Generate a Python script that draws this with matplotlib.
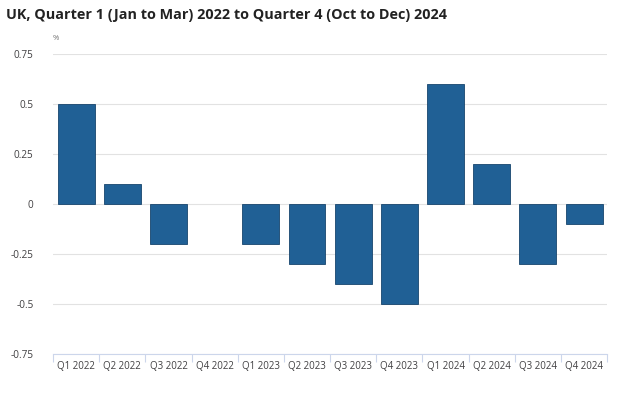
import numpy as np
import matplotlib.pyplot as plt

quarters = ["Q1 2022", "Q2 2022", "Q3 2022", "Q4 2022",
            "Q1 2023", "Q2 2023", "Q3 2023", "Q4 2023",
            "Q1 2024", "Q2 2024", "Q3 2024", "Q4 2024"]
growth = [0.5, 0.1, -0.2, 0.0, -0.2, -0.3, -0.4, -0.5, 0.6, 0.2, -0.3, -0.1]
yticks = [-0.75, -0.5, -0.25, 0, 0.25, 0.5, 0.75]
ylabels = ["-0.75", "-0.5", "-0.25", "0", "0.25", "0.5", "0.75"]

plt.rcParams['font.family'] = ['Open Sans', 'DejaVu Sans']

fig = plt.figure(figsize=(6.34, 3.96), dpi=100)
ax = fig.add_axes([0.0836, 0.106, 0.874, 0.758])

x = np.arange(len(quarters))
# no outline on zero-height bars
edge_w = [0.6 if v != 0 else 0 for v in growth]
ax.bar(x, growth, width=0.8, color='#206095', edgecolor='#17456d',
       linewidth=edge_w, zorder=3)

ax.set_xlim(-0.5, len(quarters) - 0.5)
ax.set_ylim(-0.75, 0.75)
ax.set_yticks(yticks)
ax.set_yticklabels(ylabels, fontsize=7.2, color='#414042')
ax.yaxis.grid(True, color='#e2e2e2', linewidth=0.8, zorder=0)
ax.tick_params(axis='y', length=0, pad=14)

# category labels centred, tick marks on boundaries
ax.set_xticks(x)
ax.set_xticklabels(quarters, fontsize=7, color='#414042')
ax.tick_params(axis='x', length=0, pad=5)
ax.set_xticks(np.arange(-0.5, len(quarters)), minor=True)
ax.tick_params(axis='x', which='minor', length=6, color='#ccd6eb', width=0.8)

for s in ['top', 'left', 'right']:
    ax.spines[s].set_visible(False)
ax.spines['bottom'].set_color('#ccd6eb')
ax.spines['bottom'].set_linewidth(0.8)

fig.text(0.0095, 0.962, "UK, Quarter 1 (Jan to Mar) 2022 to Quarter 4 (Oct to Dec) 2024",
         fontsize=10.4, fontweight='bold', color='#222222', va='center')
fig.text(0.083, 0.903, "%", fontsize=5.5, color='#707070', va='center')

fig.savefig("out.png", dpi=100)
